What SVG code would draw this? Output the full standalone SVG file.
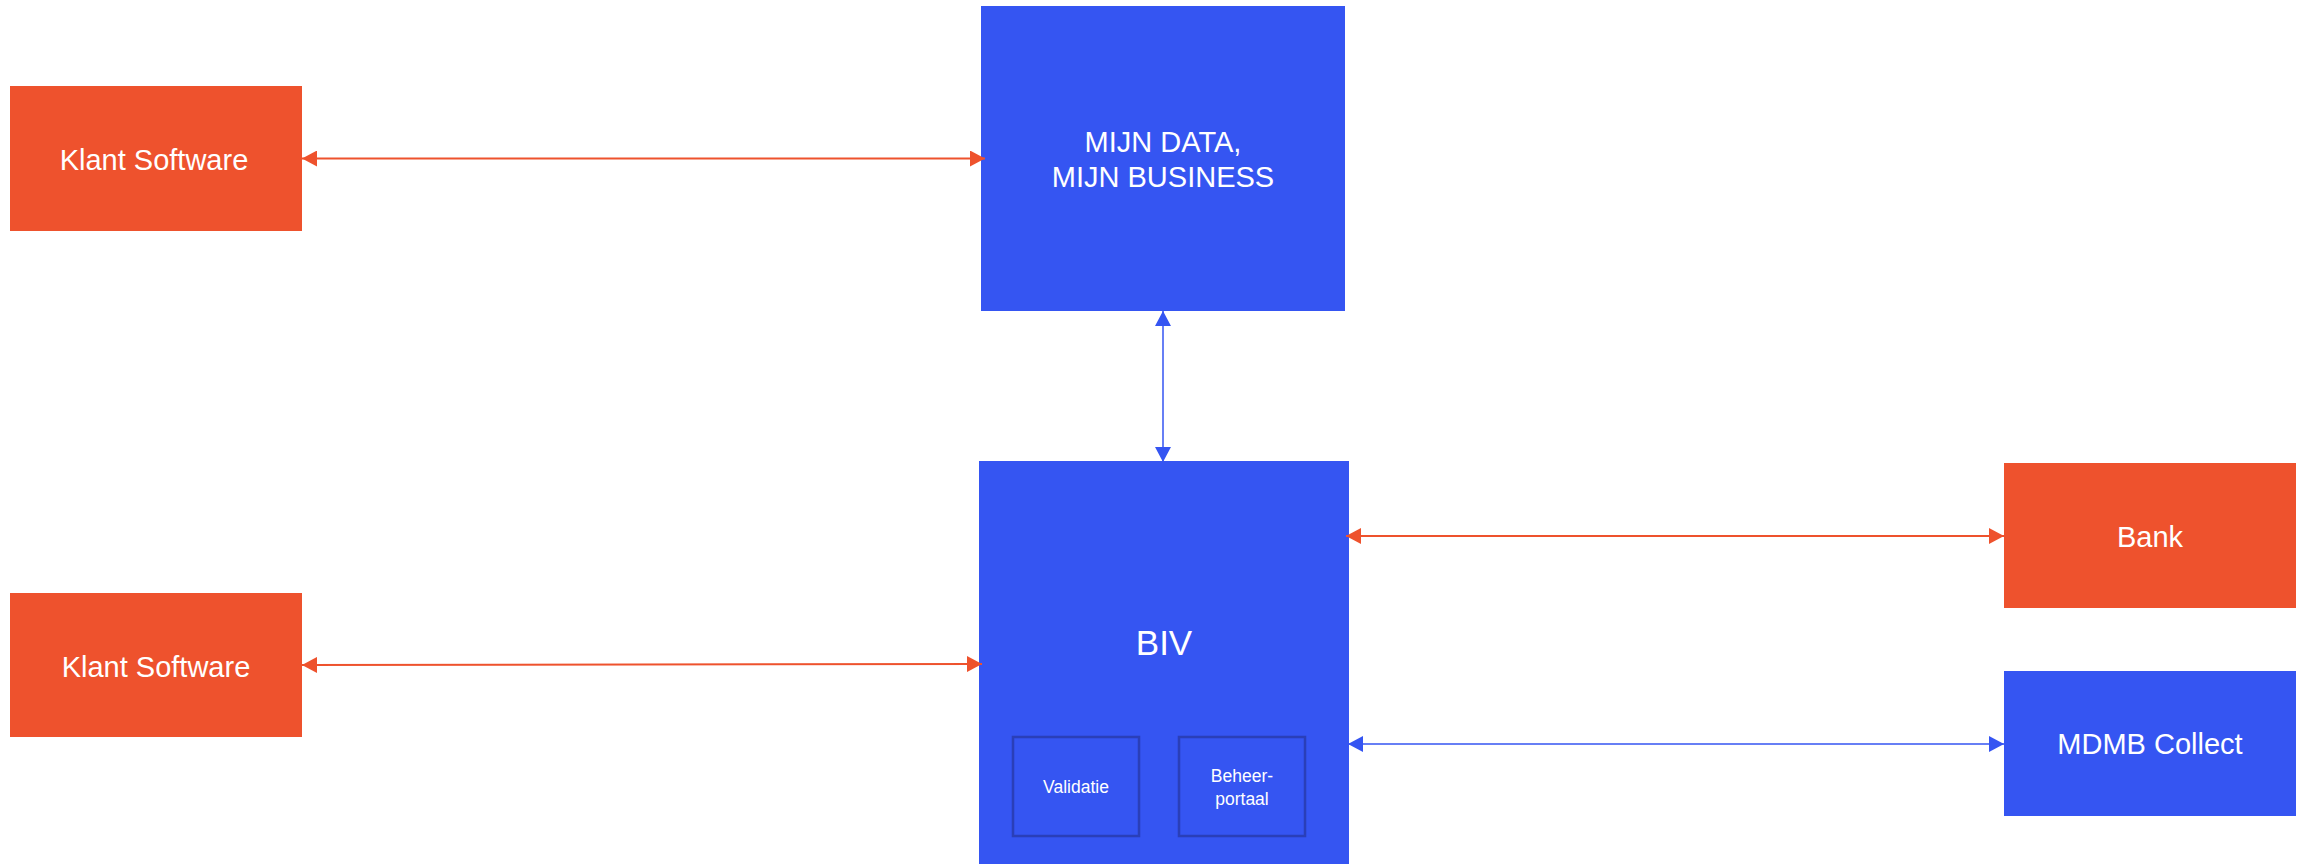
<svg xmlns="http://www.w3.org/2000/svg" width="2308" height="864" viewBox="0 0 2308 864">
  <style>
    .orange { fill: #EE522D; }
    .blue { fill: #3555F2; }
    .inner { fill: none; stroke: #2A3FB8; stroke-width: 2.5; }
    .lbl { font-family: "Liberation Sans", Arial, sans-serif; fill: #FFFFFF; text-anchor: middle; }
    .c-or { stroke: #EE522D; stroke-width: 2; fill: none; }
    .c-bl { stroke: #3555F2; stroke-width: 1.5; fill: none; }
  </style>
  <defs>
    <marker id="ah-or" markerUnits="userSpaceOnUse" markerWidth="16" markerHeight="16" viewBox="0 0 16 16" refX="15" refY="8" orient="auto-start-reverse">
      <path d="M0,0 L15,8 L0,16 z" fill="#EE522D"/>
    </marker>
    <marker id="ah-bl" markerUnits="userSpaceOnUse" markerWidth="16" markerHeight="16" viewBox="0 0 16 16" refX="15" refY="8" orient="auto-start-reverse">
      <path d="M0,0 L15,8 L0,16 z" fill="#3555F2"/>
    </marker>
  </defs>
  <rect width="2308" height="864" fill="#FFFFFF"/>

  <g id="klant-software-1">
    <rect class="orange" x="10" y="86" width="292" height="145"/>
    <text class="lbl" x="154" y="170" font-size="29">Klant Software</text>
  </g>
  <g id="mijn-data">
    <rect class="blue" x="981" y="6" width="364" height="305"/>
    <text class="lbl" x="1163" y="152" font-size="29">MIJN DATA,</text>
    <text class="lbl" x="1163" y="187" font-size="29">MIJN BUSINESS</text>
  </g>
  <g id="klant-software-2">
    <rect class="orange" x="10" y="593" width="292" height="144"/>
    <text class="lbl" x="156" y="677" font-size="29">Klant Software</text>
  </g>
  <g id="biv">
    <rect class="blue" x="979" y="461" width="370" height="410"/>
    <text class="lbl" x="1164" y="655" font-size="35">BIV</text>
    <g id="validatie">
      <rect class="inner" x="1013" y="737" width="126" height="99"/>
      <text class="lbl" x="1076" y="793" font-size="17.5">Validatie</text>
    </g>
    <g id="beheerportaal">
      <rect class="inner" x="1179" y="737" width="126" height="99"/>
      <text class="lbl" x="1242" y="782" font-size="17.5">Beheer-</text>
      <text class="lbl" x="1242" y="805" font-size="17.5">portaal</text>
    </g>
  </g>
  <g id="bank">
    <rect class="orange" x="2004" y="463" width="292" height="145"/>
    <text class="lbl" x="2150" y="547" font-size="29">Bank</text>
  </g>
  <g id="mdmb-collect">
    <rect class="blue" x="2004" y="671" width="292" height="145"/>
    <text class="lbl" x="2150" y="754" font-size="29">MDMB Collect</text>
  </g>

  <g id="connectors">
    <line class="c-or" x1="302" y1="158.5" x2="985" y2="158.5" marker-start="url(#ah-or)" marker-end="url(#ah-or)"/>
    <line class="c-bl" x1="1163" y1="311" x2="1163" y2="462" marker-start="url(#ah-bl)" marker-end="url(#ah-bl)"/>
    <line class="c-or" x1="302" y1="665" x2="982" y2="664" marker-start="url(#ah-or)" marker-end="url(#ah-or)"/>
    <line class="c-or" x1="1346" y1="536" x2="2004" y2="536" marker-start="url(#ah-or)" marker-end="url(#ah-or)"/>
    <line class="c-bl" x1="1348" y1="744" x2="2004" y2="744" marker-start="url(#ah-bl)" marker-end="url(#ah-bl)"/>
  </g>
</svg>
